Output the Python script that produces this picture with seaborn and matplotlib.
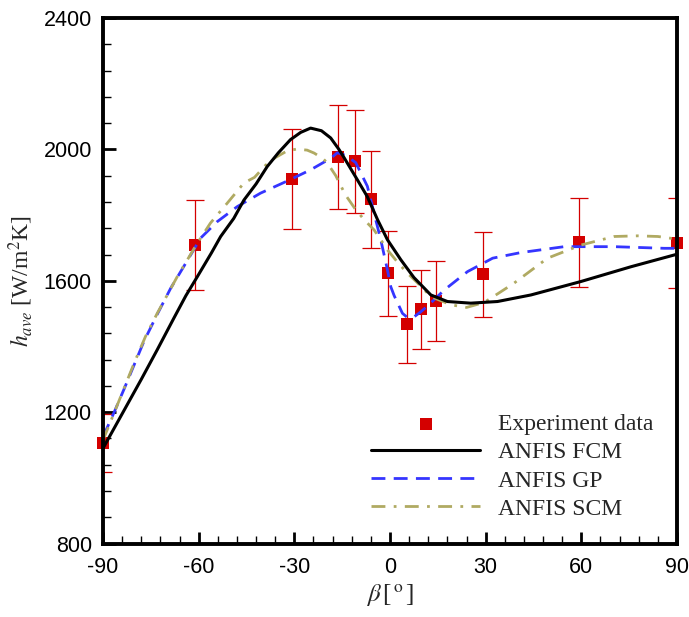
import matplotlib
matplotlib.use("Agg")
import matplotlib.pyplot as plt
import seaborn as sns
import numpy as np
import pandas as pd
from matplotlib.ticker import MultipleLocator

# ---------------- data ----------------
exp_beta = [-90, -61, -30.8, -16.3, -11.0, -5.9, -0.6, 5.35, 9.7, 14.45, 29.2, 59.3, 90]
exp_h = [1106, 1710, 1910, 1978, 1964, 1848, 1623, 1468, 1513, 1539, 1620, 1717, 1714]
exp_err = [89, 137, 152, 158, 157, 147, 129, 117, 120, 122, 129, 136, 137]

fcm_beta = [-90, -84, -78, -73, -67.8, -64, -60.4, -56, -53.1, -49, -45.8, -42, -38.5, -35,
            -31.2, -28, -24.9, -21.5, -18.6, -16, -14.4, -10.2, -7.1, -3.9, -0.8, 3.4, 7.5,
            10.7, 12.8, 18, 25.3, 33.7, 44.2, 59.9, 75.6, 90]
fcm_h = [1090, 1195, 1300, 1390, 1486, 1555, 1613, 1685, 1735, 1790, 1846, 1895, 1948, 1990,
         2030, 2052, 2065, 2057, 2035, 2000, 1975, 1907, 1856, 1786, 1725, 1664, 1610,
         1578, 1557, 1537, 1532, 1537, 1557, 1598, 1643, 1681]

gp_beta = [-90, -86.5, -83.5, -77.2, -73, -68.8, -63.6, -59.4, -54.2, -47.9, -40.6, -32.2,
           -24.9, -18.6, -16.5, -14, -10.75, -7.1, -5, -2.9, -0.8, 0.24, 1.3, 3.9, 5.5, 7.5,
           9.7, 12.5, 17, 24.3, 32.2, 41, 54.6, 70.3, 86, 90]
gp_h = [1125, 1200, 1268, 1415, 1498, 1577, 1661, 1730, 1780, 1826, 1867, 1904,
        1938, 1973, 1990, 1982, 1960, 1888, 1806, 1725, 1633, 1582, 1555, 1501, 1488, 1490,
        1506, 1530, 1572, 1628, 1669, 1686, 1704, 1704, 1699, 1699]

scm_beta = [-90, -86, -80, -76.7, -73, -66.7, -60.4, -56.3, -51, -45.8, -42.5, -39, -36,
            -32.2, -29.3, -26, -23.8, -21, -19.6, -17, -14, -11, -8.1, -5, -2.9, -0.8, 2.6,
            5.5, 8.7, 12.8, 19.1, 24, 29.5, 34, 38.9, 49.4, 59.9, 70.3, 77.7, 84, 90]
scm_h = [1115, 1210, 1355, 1430, 1501, 1613, 1715, 1776, 1837, 1898, 1915, 1952, 1975,
         1996, 2001, 1998, 1989, 1972, 1958, 1920, 1862, 1820, 1786, 1755, 1725, 1694, 1654,
         1623, 1593, 1552, 1527, 1519, 1534, 1562, 1593, 1669, 1709, 1735, 1737, 1735, 1727]

# ---------------- style ----------------
sns.set_style("white")
plt.rcParams["font.family"] = ["Liberation Sans", "DejaVu Sans"]
plt.rcParams["mathtext.fontset"] = "stix"
plt.rcParams["axes.unicode_minus"] = False

fig = plt.figure(figsize=(6.89, 6.17), dpi=100)
ax = fig.add_axes([0.1495, 0.119, 0.8331, 0.8517])

red = "#d40000"
blue = "#3535ff"
gold = "#b0aa62"

# experimental points with error bars
ax.errorbar(exp_beta, exp_h, yerr=exp_err, fmt="none", ecolor=red, elinewidth=0.9,
            capsize=6.5, capthick=0.9, zorder=1.5)
sns.scatterplot(x=exp_beta, y=exp_h, ax=ax, marker="s", color=red, s=75, linewidth=0,
                label="Experiment data", zorder=2, clip_on=False)

df_gp = pd.DataFrame({"beta": gp_beta, "h": gp_h})
df_scm = pd.DataFrame({"beta": scm_beta, "h": scm_h})
df_fcm = pd.DataFrame({"beta": fcm_beta, "h": fcm_h})

sns.lineplot(data=df_gp, x="beta", y="h", ax=ax, color=blue, lw=2.0, sort=False,
             estimator=None, label="ANFIS GP", zorder=3, linestyle=(0, (5, 3)))
sns.lineplot(data=df_scm, x="beta", y="h", ax=ax, color=gold, lw=2.0, sort=False,
             estimator=None, label="ANFIS SCM", zorder=3.2, linestyle=(0, (5, 3, 1, 3)))
sns.lineplot(data=df_fcm, x="beta", y="h", ax=ax, color="black", lw=2.2, sort=False,
             estimator=None, label="ANFIS FCM", zorder=3.4)

ax.set_xlim(-90, 90)
ax.set_ylim(800, 2400)
ax.xaxis.set_major_locator(MultipleLocator(30))
ax.xaxis.set_minor_locator(MultipleLocator(6))
ax.yaxis.set_major_locator(MultipleLocator(400))
ax.yaxis.set_minor_locator(MultipleLocator(80))
ax.tick_params(which="both", direction="in", top=False, right=False,
               bottom=True, left=True, labelsize=15.5, colors="black")
ax.tick_params(which="major", length=9, width=2.0, pad=8)
ax.tick_params(which="minor", length=5.5, width=1.0)
ax.tick_params(axis="x", which="major", pad=10)

for sp in ax.spines.values():
    sp.set_linewidth(2.8)
    sp.set_color("black")
    sp.set_zorder(5)

ax.set_xlabel(r"$\beta\,$[$^{\,\rm o\,}$]", fontsize=18, family="Liberation Serif", labelpad=3)
ax.set_ylabel(r"$h_{ave}$ [W/m$^2$K]", fontsize=17, family="Liberation Serif", labelpad=6)

handles, labels = ax.get_legend_handles_labels()
order = ["Experiment data", "ANFIS FCM", "ANFIS GP", "ANFIS SCM"]
hmap = dict(zip(labels, handles))
leg = ax.legend([hmap[k] for k in order], order, loc="lower right",
                bbox_to_anchor=(0.995, 0.005), frameon=False,
                prop={"family": "Liberation Serif", "size": 17},
                handlelength=4.6, handletextpad=0.75, labelspacing=0.28,
                markerscale=1.0)

fig.savefig("out.png", dpi=100)
